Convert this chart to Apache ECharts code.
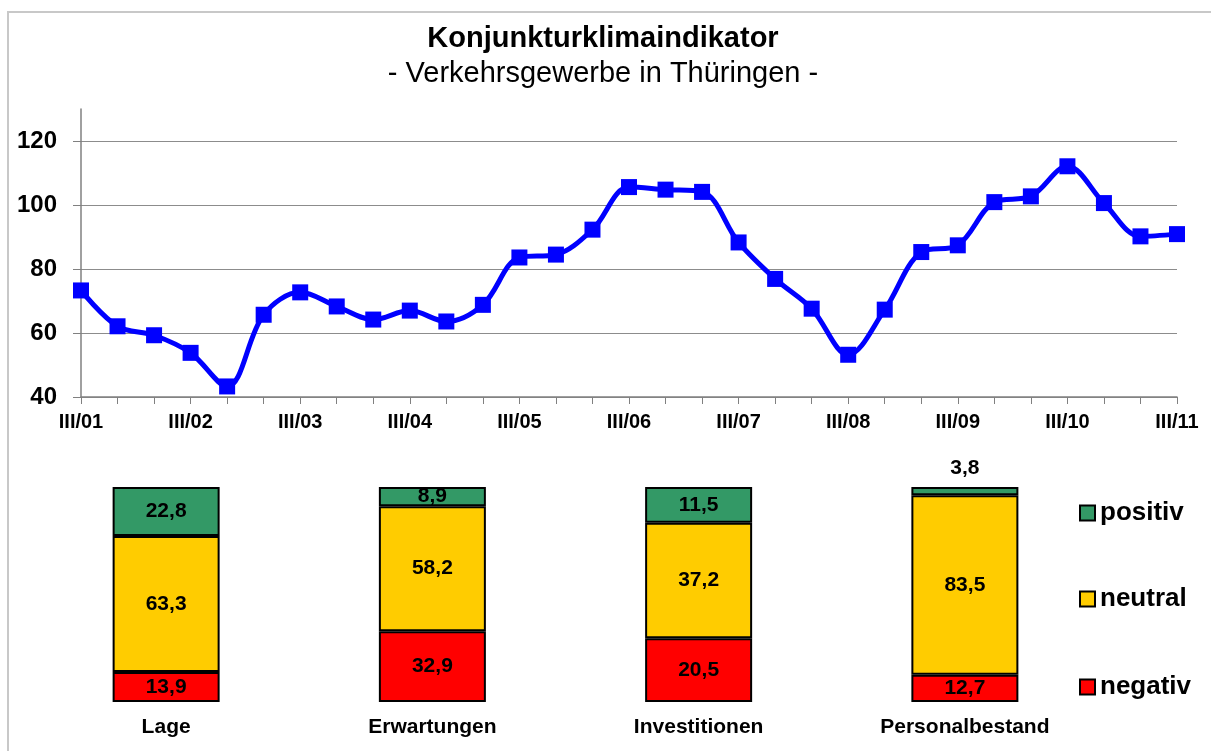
<!DOCTYPE html>
<html>
<head>
<meta charset="utf-8">
<script src="https://cdn.jsdelivr.net/npm/echarts@6/dist/echarts.min.js"></script>
<style>
  html, body { margin: 0; padding: 0; background: #fff; }
  #chart { width: 1211px; height: 751px; }
</style>
</head>
<body>
<div id="chart"></div>
<script>
const periods = [
  'III/01', 'I/02', 'II/02', 'III/02', 'I/03', 'II/03', 'III/03', 'I/04', 'II/04',
  'III/04', 'I/05', 'II/05', 'III/05', 'I/06', 'II/06', 'III/06', 'I/07', 'II/07',
  'III/07', 'I/08', 'II/08', 'III/08', 'I/09', 'II/09', 'III/09', 'I/10', 'II/10',
  'III/10', 'I/11', 'II/11', 'III/11'
];
const klima = [
  73.3, 62.1, 59.3, 53.8, 43.3, 65.7, 72.7, 68.3, 64.2, 67.0,
  63.6, 68.8, 83.6, 84.5, 92.3, 105.6, 104.8, 104.1, 88.3, 76.9,
  67.6, 53.2, 67.3, 85.3, 87.4, 100.9, 102.7, 112.1, 100.6, 90.2, 90.9
];
const yTicks = [40, 60, 80, 100, 120];

const bereiche = ['Lage', 'Erwartungen', 'Investitionen', 'Personalbestand'];
const negativ = [13.9, 32.9, 20.5, 12.7];
const neutral = [63.3, 58.2, 37.2, 83.5];
const positiv = [22.8, 8.9, 11.5, 3.8];

const font = 'Liberation Sans, Arial, sans-serif';
const chart = echarts.init(document.getElementById('chart'));

// 100%-Säulen: Höhe als Anteil an der Summe, Beschriftung mit dem Originalwert
const totals = bereiche.map(function (b, i) { return negativ[i] + neutral[i] + positiv[i]; });
function shares(arr) {
  return arr.map(function (v, i) {
    const item = { value: v / totals[i] * 100, raw: v };
    if (v < 5) item.label = { position: 'top', distance: 8 };
    return item;
  });
}

function fmt(p) {
  return p.data.raw.toFixed(1).replace('.', ',');
}

function legendAt(name, top) {
  return {
    data: [name],
    left: 1079,
    top: top,
    padding: 0,
    itemWidth: 15,
    itemHeight: 15,
    itemGap: 5,
    icon: 'rect',
    selectedMode: false,
    textStyle: { fontFamily: font, fontSize: 26, fontWeight: 'bold', color: '#000', lineHeight: 26 }
  };
}

const barLabel = {
  show: true,
  position: 'inside',
  formatter: fmt,
  fontFamily: font,
  fontSize: 21,
  fontWeight: 'bold',
  color: '#000'
};

var option = {
  animation: false,
  backgroundColor: '#fff',
  graphic: [{
    type: 'rect',
    shape: { x: 8, y: 12, width: 1300, height: 900 },
    style: { fill: 'none', stroke: '#c8c8c8', lineWidth: 2 },
    silent: true
  }],
  title: {
    text: 'Konjunkturklimaindikator',
    subtext: '- Verkehrsgewerbe in Thüringen -',
    left: 598,
    textAlign: 'center',
    top: 19,
    itemGap: 6,
    textStyle: { fontFamily: font, fontSize: 29, fontWeight: 'bold', color: '#000' },
    subtextStyle: { fontFamily: font, fontSize: 29, color: '#000' }
  },
  legend: [
    legendAt('positiv', 500),
    legendAt('neutral', 586),
    legendAt('negativ', 674)
  ],
  grid: [
    { left: 81, right: 34, top: 109, bottom: 354 },
    { left: 33, right: 113, top: 487, bottom: 49 }
  ],
  xAxis: [{
    gridIndex: 0,
    type: 'category',
    boundaryGap: false,
    data: periods,
    axisLine: { lineStyle: { color: '#808080', width: 1.5 } },
    axisTick: { show: true, interval: 0, length: 7, lineStyle: { color: '#808080' } },
    axisLabel: {
      interval: 2,
      margin: 15,
      fontFamily: font,
      fontSize: 20,
      fontWeight: 'bold',
      color: '#000'
    },
    splitLine: { show: false }
  }, {
    gridIndex: 1,
    type: 'category',
    data: bereiche,
    axisLine: { show: false },
    axisTick: { show: false },
    axisLabel: {
      margin: 15,
      fontFamily: font,
      fontSize: 21,
      fontWeight: 'bold',
      color: '#000'
    }
  }],
  yAxis: [{
    gridIndex: 0,
    type: 'value',
    min: 40,
    max: 130,
    interval: 20,
    axisLine: { show: true, lineStyle: { color: '#808080', width: 1.5 } },
    axisTick: { show: true, length: 8, lineStyle: { color: '#808080' } },
    axisLabel: {
      showMaxLabel: false,
      margin: 24,
      fontFamily: font,
      fontSize: 24,
      fontWeight: 'bold',
      color: '#000',
      formatter: function (v) { return yTicks.indexOf(v) >= 0 ? String(v) : ''; }
    },
    splitLine: { show: true, showMaxLine: false, lineStyle: { color: '#8c8c8c', width: 1 } }
  }, {
    gridIndex: 1,
    type: 'value',
    min: 0,
    max: 100,
    show: false
  }],
  series: [{
    name: 'Klima',
    type: 'line',
    xAxisIndex: 0,
    yAxisIndex: 0,
    data: klima,
    smooth: 0.35,
    symbol: 'rect',
    symbolSize: 16,
    lineStyle: { color: '#0000ff', width: 5 },
    itemStyle: { color: '#0000ff' },
    z: 5
  }, {
    name: 'negativ',
    type: 'bar',
    xAxisIndex: 1,
    yAxisIndex: 1,
    stack: 'anteil',
    barWidth: 107,
    data: shares(negativ),
    itemStyle: { color: '#ff0000', borderColor: '#000', borderWidth: 2 },
    label: barLabel
  }, {
    name: 'neutral',
    type: 'bar',
    xAxisIndex: 1,
    yAxisIndex: 1,
    stack: 'anteil',
    barWidth: 107,
    data: shares(neutral),
    itemStyle: { color: '#ffcc00', borderColor: '#000', borderWidth: 2 },
    label: barLabel
  }, {
    name: 'positiv',
    type: 'bar',
    xAxisIndex: 1,
    yAxisIndex: 1,
    stack: 'anteil',
    barWidth: 107,
    data: shares(positiv),
    itemStyle: { color: '#339966', borderColor: '#000', borderWidth: 2 },
    label: barLabel
  }]
};

chart.setOption(option);
</script>
</body>
</html>
